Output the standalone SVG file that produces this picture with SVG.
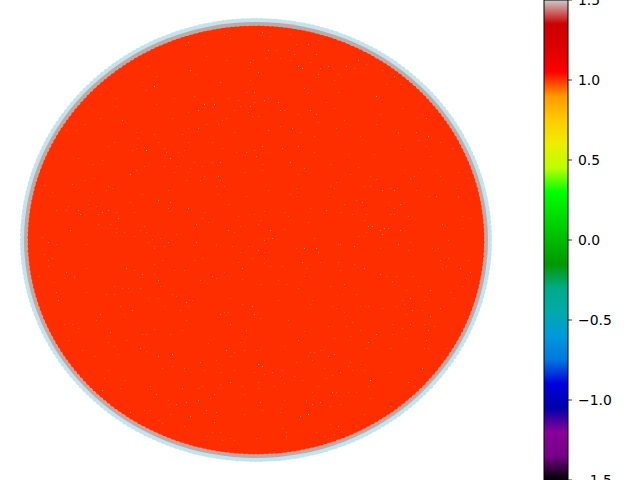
<svg xmlns="http://www.w3.org/2000/svg" width="640" height="480" viewBox="0 0 640 480">
<style>
.tk{stroke:#000;stroke-width:0.8}
.lb{font-family:"DejaVu Sans",sans-serif;font-size:13.9px;fill:#000;dominant-baseline:central}
</style>
<defs>
<linearGradient id="cm" gradientUnits="userSpaceOnUse" x1="0" y1="480" x2="0" y2="0">
<stop offset="0" stop-color="#000000"/>
<stop offset="0.05" stop-color="#770088"/>
<stop offset="0.10" stop-color="#880099"/>
<stop offset="0.15" stop-color="#0000aa"/>
<stop offset="0.20" stop-color="#0000dd"/>
<stop offset="0.25" stop-color="#0077dd"/>
<stop offset="0.30" stop-color="#0099dd"/>
<stop offset="0.35" stop-color="#00aaaa"/>
<stop offset="0.40" stop-color="#00aa88"/>
<stop offset="0.45" stop-color="#009900"/>
<stop offset="0.50" stop-color="#00bb00"/>
<stop offset="0.55" stop-color="#00dd00"/>
<stop offset="0.60" stop-color="#00ff00"/>
<stop offset="0.65" stop-color="#bbff00"/>
<stop offset="0.70" stop-color="#eeee00"/>
<stop offset="0.75" stop-color="#ffcc00"/>
<stop offset="0.80" stop-color="#ff9900"/>
<stop offset="0.85" stop-color="#ff0000"/>
<stop offset="0.90" stop-color="#dd0000"/>
<stop offset="0.95" stop-color="#cc0000"/>
<stop offset="1" stop-color="#cccccc"/>
</linearGradient>
<filter id="sp" x="0" y="0" width="1" height="1">
<feTurbulence type="fractalNoise" baseFrequency="0.5" numOctaves="1" seed="7" result="t"/>
<feColorMatrix in="t" type="matrix" values="0 0 0 0 1  0 0 0 0 1  0 0 0 0 1  1 0 0 0 0" result="w"/>
<feComponentTransfer in="w"><feFuncA type="discrete" tableValues="0 0 0 0 0 0 0 0 0 0 0 0 0 0 0 0.2 0.35 0.5 0.6 0.7"/></feComponentTransfer>
<feComposite operator="in" in2="SourceGraphic"/>
</filter>
</defs>
<rect width="640" height="480" fill="#fff"/>
<g id="edges">
<ellipse cx="256" cy="240" rx="232" ry="218" fill="#ff2e00"/>
<ellipse cx="256" cy="240" rx="224" ry="210" fill="#ff2e00" filter="url(#sp)"/>
</g>
<g id="nodes">
<ellipse cx="256" cy="240" rx="232" ry="218" fill="none" stroke="#add8e6" stroke-opacity="0.72" stroke-width="8" stroke-linecap="round" stroke-dasharray="0 4.714"/>
</g>
<g id="colorbar">
<rect x="544" y="0" width="24" height="480" fill="url(#cm)" stroke="#000" stroke-width="1"/>
<line class="tk" x1="568" y1="0" x2="572" y2="0"/>
<line class="tk" x1="568" y1="80" x2="572" y2="80"/>
<line class="tk" x1="568" y1="160" x2="572" y2="160"/>
<line class="tk" x1="568" y1="240" x2="572" y2="240"/>
<line class="tk" x1="568" y1="320" x2="572" y2="320"/>
<line class="tk" x1="568" y1="400" x2="572" y2="400"/>
<line class="tk" x1="568" y1="480" x2="572" y2="480"/>
<text class="lb" x="578" y="0">1.5</text>
<text class="lb" x="578" y="80">1.0</text>
<text class="lb" x="578" y="160">0.5</text>
<text class="lb" x="578" y="240">0.0</text>
<text class="lb" x="578" y="320">−0.5</text>
<text class="lb" x="578" y="400">−1.0</text>
<text class="lb" x="578" y="480">−1.5</text>
</g>
</svg>
